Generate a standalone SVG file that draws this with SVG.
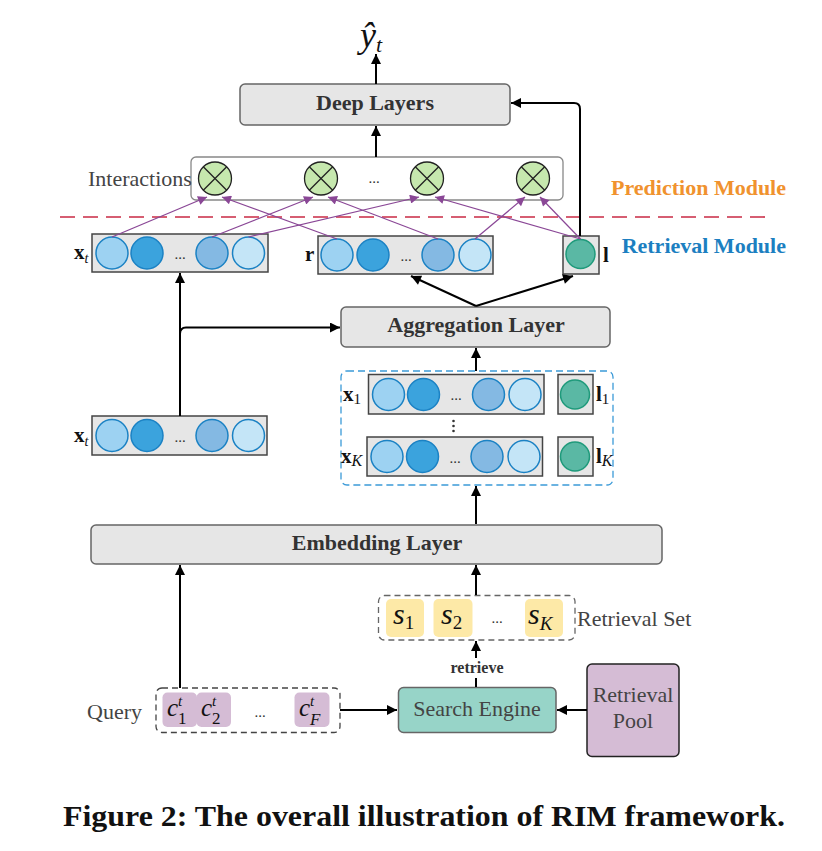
<svg xmlns="http://www.w3.org/2000/svg" width="822" height="851" viewBox="0 0 822 851">
<defs>
<marker id="ah" viewBox="0 0 10 10" refX="10" refY="5" markerWidth="11" markerHeight="10" markerUnits="userSpaceOnUse" orient="auto">
<path d="M0,0 L10,5 L0,10 z" fill="#000"/>
</marker>
<marker id="ahp" viewBox="0 0 10 10" refX="10" refY="5" markerWidth="11" markerHeight="9" markerUnits="userSpaceOnUse" orient="auto">
<path d="M0,0 L10,5 L0,10 z" fill="#8a4796"/>
</marker>
<style>
.layer{fill:#e6e6e6;stroke:#666;stroke-width:1.5}
.vec{fill:#e6e6e6;stroke:#444;stroke-width:1.5}
.lt{font-family:"Liberation Serif",serif;font-weight:bold;font-size:22px;fill:#333;text-anchor:middle}
.c1{fill:#9dd2f2;stroke:#1b82c4;stroke-width:1.5}
.c2{fill:#3ba3dd;stroke:#1b82c4;stroke-width:1.5}
.c3{fill:#84b9e3;stroke:#1b82c4;stroke-width:1.5}
.c4{fill:#c4e5f7;stroke:#1b82c4;stroke-width:1.5}
.cg{fill:#5ab8a4;stroke:#1f9a7b;stroke-width:1.5}
.ox{fill:#c6e8ae;stroke:#222;stroke-width:1.3}
.dots{font-family:"Liberation Serif",serif;font-size:15px;fill:#333;text-anchor:middle}
.lab{font-family:"Liberation Serif",serif;font-size:22px;fill:#444}
.math{font-family:"Liberation Serif",serif;fill:#111}
.arr{stroke:#000;stroke-width:2;fill:none;marker-end:url(#ah)}
.parr{stroke:#8a4796;stroke-width:1.2;fill:none;marker-end:url(#ahp)}
</style>
</defs>

<!-- output -->
<g id="yhat">
<text class="math" x="360" y="47" font-size="36" font-style="italic">ŷ</text>
<text class="math" x="376" y="52" font-size="22" font-style="italic">t</text>
</g>

<g id="deep-layers">
<rect class="layer" x="240" y="84" width="270" height="41" rx="5"/>
<text class="lt" x="375" y="110">Deep Layers</text>
</g>

<g id="interactions">
<rect x="191" y="157" width="372" height="43" rx="5" fill="#fff" stroke="#888" stroke-width="1.3"/>
<text class="lab" x="88" y="186">Interactions</text>
<g id="ox1"><circle class="ox" cx="215" cy="178.5" r="16.5"/><path d="M203.3,166.8 L226.7,190.2 M226.7,166.8 L203.3,190.2" stroke="#222" stroke-width="1.3"/></g>
<g id="ox2"><circle class="ox" cx="321" cy="178.5" r="16.5"/><path d="M309.3,166.8 L332.7,190.2 M332.7,166.8 L309.3,190.2" stroke="#222" stroke-width="1.3"/></g>
<text class="dots" x="374" y="183">...</text>
<g id="ox3"><circle class="ox" cx="427" cy="178.5" r="16.5"/><path d="M415.3,166.8 L438.7,190.2 M438.7,166.8 L415.3,190.2" stroke="#222" stroke-width="1.3"/></g>
<g id="ox4"><circle class="ox" cx="533" cy="178.5" r="16.5"/><path d="M521.3,166.8 L544.7,190.2 M544.7,166.8 L521.3,190.2" stroke="#222" stroke-width="1.3"/></g>
</g>

<g id="module-divider">
<line x1="60" y1="217" x2="772" y2="217" stroke="#c92a44" stroke-width="1.6" stroke-dasharray="15 8"/>
<text x="786" y="195" text-anchor="end" font-family="Liberation Serif,serif" font-weight="bold" font-size="22" fill="#f0922e">Prediction Module</text>
<text x="786" y="253" text-anchor="end" font-family="Liberation Serif,serif" font-weight="bold" font-size="22" fill="#1c7fc1">Retrieval Module</text>
</g>

<g id="xt-top">
<rect class="vec" x="92" y="234" width="176" height="38"/>
<circle class="c1" cx="112" cy="253" r="16"/>
<circle class="c2" cx="147" cy="253" r="16"/>
<text class="dots" x="180" y="259">...</text>
<circle class="c3" cx="212" cy="253" r="16"/>
<circle class="c4" cx="248.5" cy="253" r="16"/>
<text class="math" x="74" y="259" font-size="21" font-weight="bold">x<tspan font-size="14" font-style="italic" font-weight="normal" dy="4">t</tspan></text>
</g>

<g id="r-vec">
<rect class="vec" x="318" y="236" width="175" height="38"/>
<circle class="c1" cx="337" cy="255" r="16"/>
<circle class="c2" cx="373" cy="255" r="16"/>
<text class="dots" x="406" y="261">...</text>
<circle class="c3" cx="438" cy="255" r="16"/>
<circle class="c4" cx="475" cy="255" r="16"/>
<text class="math" x="305" y="261" font-size="21" font-weight="bold">r</text>
</g>

<g id="l-vec">
<rect class="vec" x="563" y="236" width="36" height="38"/>
<circle class="cg" cx="580.5" cy="254" r="14.5"/>
<text class="math" x="603" y="262" font-size="21" font-weight="bold">l</text>
</g>

<g id="aggregation-layer">
<rect class="layer" x="341" y="307" width="269" height="40" rx="5"/>
<text class="lt" x="476" y="332">Aggregation Layer</text>
</g>

<g id="xt-bottom">
<rect class="vec" x="92" y="416" width="175" height="39"/>
<circle class="c1" cx="112" cy="435.5" r="16"/>
<circle class="c2" cx="147" cy="435.5" r="16"/>
<text class="dots" x="180" y="442">...</text>
<circle class="c3" cx="212" cy="435.5" r="16"/>
<circle class="c4" cx="248.5" cy="435.5" r="16"/>
<text class="math" x="74" y="442" font-size="21" font-weight="bold">x<tspan font-size="14" font-style="italic" font-weight="normal" dy="4">t</tspan></text>
</g>

<g id="retrieved-items">
<rect x="341" y="371" width="272" height="114" rx="6" fill="none" stroke="#3b9ad8" stroke-width="1.3" stroke-dasharray="7 4"/>
<g id="x1">
<rect class="vec" x="368.5" y="374.5" width="175.5" height="39.5"/>
<circle class="c1" cx="388.5" cy="394.5" r="16"/>
<circle class="c2" cx="423.5" cy="394.5" r="16"/>
<text class="dots" x="456" y="400">...</text>
<circle class="c3" cx="488.5" cy="394.5" r="16"/>
<circle class="c4" cx="525" cy="394.5" r="16"/>
<text class="math" x="343" y="401" font-size="21" font-weight="bold">x<tspan font-size="15" font-weight="normal" dy="3">1</tspan></text>
</g>
<g id="l1">
<rect class="vec" x="558" y="374.5" width="35" height="39.5"/>
<circle class="cg" cx="575" cy="394.5" r="14.5"/>
<text class="math" x="596" y="401" font-size="21" font-weight="bold">l<tspan font-size="15" font-weight="normal" dy="3">1</tspan></text>
</g>
<g id="vdots" fill="#333">
<circle cx="453.5" cy="421" r="1.3"/><circle cx="453.5" cy="426" r="1.3"/><circle cx="453.5" cy="431" r="1.3"/>
</g>
<g id="xK">
<rect class="vec" x="367" y="437" width="175.5" height="39"/>
<circle class="c1" cx="387" cy="456.5" r="16"/>
<circle class="c2" cx="422.5" cy="456.5" r="16"/>
<text class="dots" x="455" y="463">...</text>
<circle class="c3" cx="487" cy="456.5" r="16"/>
<circle class="c4" cx="524" cy="456.5" r="16"/>
<text class="math" x="341" y="463" font-size="21" font-weight="bold">x<tspan font-size="16" font-style="italic" font-weight="normal" dy="3">K</tspan></text>
</g>
<g id="lK">
<rect class="vec" x="558" y="437" width="35" height="39"/>
<circle class="cg" cx="575" cy="456.5" r="14.5"/>
<text class="math" x="596" y="463" font-size="21" font-weight="bold">l<tspan font-size="16" font-style="italic" font-weight="normal" dy="3">K</tspan></text>
</g>
</g>

<g id="embedding-layer">
<rect class="layer" x="91" y="525" width="571" height="39" rx="5"/>
<text class="lt" x="377" y="550">Embedding Layer</text>
</g>

<g id="retrieval-set">
<rect x="378.5" y="595.5" width="196.5" height="44.5" rx="6" fill="none" stroke="#666" stroke-width="1.3" stroke-dasharray="6 4"/>
<rect x="386" y="599" width="38" height="38" rx="5" fill="#fde9a7"/>
<rect x="433.5" y="599" width="39" height="38" rx="5" fill="#fde9a7"/>
<rect x="525" y="599" width="38" height="38" rx="5" fill="#fde9a7"/>
<text class="math" x="393" y="624" font-size="30" font-style="italic">s<tspan font-size="19" font-style="normal" dy="5">1</tspan></text>
<text class="math" x="441" y="624" font-size="30" font-style="italic">s<tspan font-size="19" font-style="normal" dy="5">2</tspan></text>
<text class="dots" x="497" y="623">...</text>
<text class="math" x="528" y="624" font-size="30" font-style="italic">s<tspan font-size="19" dy="6">K</tspan></text>
<text class="lab" x="577" y="626">Retrieval Set</text>
</g>

<g id="query">
<text class="lab" x="87" y="719">Query</text>
<rect x="156" y="688" width="184" height="44.5" rx="6" fill="none" stroke="#444" stroke-width="1.3" stroke-dasharray="6 4"/>
<rect x="162.5" y="692.5" width="34.5" height="34.5" rx="5" fill="#d5bcd5"/>
<rect x="196.5" y="692.5" width="34.5" height="34.5" rx="5" fill="#d5bcd5"/>
<rect x="294.5" y="692.5" width="35" height="34.5" rx="5" fill="#d5bcd5"/>
<text class="math" x="167" y="716" font-size="25" font-style="italic">c</text>
<text class="math" x="178" y="706" font-size="15" font-style="italic">t</text>
<text class="math" x="178" y="724" font-size="17">1</text>
<text class="math" x="201" y="716" font-size="25" font-style="italic">c</text>
<text class="math" x="212" y="706" font-size="15" font-style="italic">t</text>
<text class="math" x="212" y="724" font-size="17">2</text>
<text class="dots" x="260" y="717">...</text>
<text class="math" x="299" y="716" font-size="25" font-style="italic">c</text>
<text class="math" x="310" y="706" font-size="15" font-style="italic">t</text>
<text class="math" x="310" y="725" font-size="17" font-style="italic">F</text>
</g>

<g id="search-engine">
<rect x="398.5" y="687.5" width="157.5" height="45" rx="5" fill="#97d4c8" stroke="#666" stroke-width="1.5"/>
<text x="477" y="716" text-anchor="middle" font-family="Liberation Serif,serif" font-size="22" fill="#444">Search Engine</text>
</g>

<g id="retrieval-pool">
<rect x="587" y="664" width="92" height="92.5" rx="5" fill="#d5bcd5" stroke="#222" stroke-width="1.5"/>
<text x="633" y="702" text-anchor="middle" font-family="Liberation Serif,serif" font-size="22" fill="#444">Retrieval</text>
<text x="633" y="728" text-anchor="middle" font-family="Liberation Serif,serif" font-size="22" fill="#444">Pool</text>
</g>

<g id="connectors">
<line class="arr" x1="376" y1="84" x2="376" y2="54"/>
<line class="arr" x1="376" y1="157" x2="376" y2="126"/>
<path class="arr" d="M580,236 V109 Q580,103 574,103 H511"/>
<line class="arr" x1="180" y1="416" x2="180" y2="273"/>
<path class="arr" d="M180,334 Q180,327.5 186,327.5 H340"/>
<line class="arr" x1="476" y1="306" x2="411" y2="276"/>
<line class="arr" x1="476" y1="306" x2="573" y2="276"/>
<line class="arr" x1="476" y1="371" x2="476" y2="348"/>
<line class="arr" x1="476" y1="524" x2="476" y2="486"/>
<line class="arr" x1="180" y1="688" x2="180" y2="565"/>
<line class="arr" x1="476" y1="595" x2="476" y2="565"/>
<line stroke="#000" stroke-width="2" x1="476" y1="687" x2="476" y2="678"/>
<line class="arr" x1="476" y1="658" x2="476" y2="641"/>
<text x="477" y="673" text-anchor="middle" font-family="Liberation Serif,serif" font-weight="bold" font-size="16" fill="#333">retrieve</text>
<line class="arr" x1="340" y1="710" x2="397" y2="710"/>
<line class="arr" x1="587" y1="710" x2="557" y2="710"/>
<line class="parr" x1="112" y1="237" x2="207" y2="197"/>
<line class="parr" x1="337" y1="239" x2="222" y2="197"/>
<line class="parr" x1="212" y1="237" x2="313" y2="197"/>
<line class="parr" x1="438" y1="239" x2="328" y2="197"/>
<line class="parr" x1="248.5" y1="237" x2="419" y2="197"/>
<line class="parr" x1="580.5" y1="239" x2="435" y2="197"/>
<line class="parr" x1="475" y1="239" x2="525" y2="197"/>
<line class="parr" x1="580.5" y1="239" x2="540" y2="197"/>
</g>

<g id="caption">
<text x="424" y="826" text-anchor="middle" font-family="Liberation Serif,serif" font-weight="bold" font-size="29" fill="#111" textLength="722" lengthAdjust="spacingAndGlyphs">Figure 2: The overall illustration of RIM framework.</text>
</g>
</svg>
